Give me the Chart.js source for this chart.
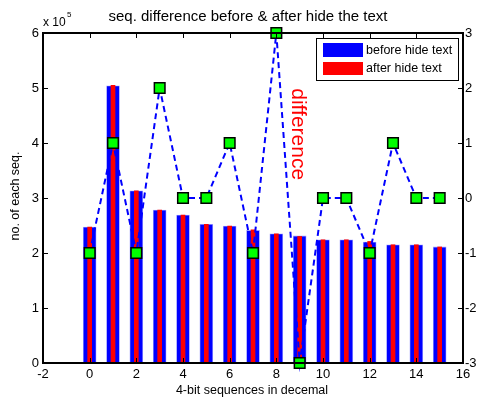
<!DOCTYPE html>
<html>
<head>
<meta charset="utf-8">
<script src="https://cdn.jsdelivr.net/npm/chart.js@4/dist/chart.umd.min.js"></script>
<style>
  body { margin: 0; background: #fff; }
</style>
</head>
<body>
<canvas id="c" width="477" height="397"></canvas>
<script>
// 4-bit sequence values 0..15
const sequences = [0, 1, 2, 3, 4, 5, 6, 7, 8, 9, 10, 11, 12, 13, 14, 15];
const beforeHide = [247000, 504000, 313000, 278000, 269000, 252000, 249000, 241000, 235000, 231000, 224000, 224000, 220000, 215000, 215000, 211000];
const afterHide = [247000, 505000, 313000, 278000, 269000, 252000, 249000, 242000, 235000, 230000, 224000, 224000, 221000, 215000, 215000, 211000];
const difference = [-1, 1, -1, 2, 0, 0, 1, -1, 3, -3, 0, 0, -1, 1, 0, 0];
const xTicks = [-2, 0, 2, 4, 6, 8, 10, 12, 14, 16];

const FONT = '"Liberation Sans", Arial, Helvetica, sans-serif';

const pts = (arr) => sequences.map((s, i) => ({ x: s, y: arr[i] }));

// matlab-ish box, inward ticks, labels, legend
const matlabDecor = {
    id: 'matlabDecor',
    afterDatasetsDraw(chart) {
        const { ctx, chartArea: a, scales } = chart;
        const x = scales.x, y = scales.y, y2 = scales.y2;
        ctx.save();
        ctx.strokeStyle = '#000';
        ctx.lineWidth = 1;
        const tl = 5;
        ctx.beginPath();
        xTicks.forEach(v => {
            const px = Math.round(x.getPixelForValue(v)) + 0.5;
            ctx.moveTo(px, a.bottom); ctx.lineTo(px, a.bottom - tl);
            ctx.moveTo(px, a.top); ctx.lineTo(px, a.top + tl);
        });
        for (let v = 0; v <= 600000; v += 100000) {
            const py = Math.round(y.getPixelForValue(v)) + 0.5;
            ctx.moveTo(a.left, py); ctx.lineTo(a.left + tl, py);
        }
        for (let v = -3; v <= 3; v++) {
            const py = Math.round(y2.getPixelForValue(v)) + 0.5;
            ctx.moveTo(a.right, py); ctx.lineTo(a.right - tl, py);
        }
        ctx.stroke();

        ctx.lineWidth = 2;
        ctx.strokeRect(a.left, a.top, a.right - a.left, a.bottom - a.top);

        // rotated red annotation
        ctx.save();
        ctx.translate(x.getPixelForValue(8.93), y2.getPixelForValue(1.16));
        ctx.rotate(Math.PI / 2);
        ctx.fillStyle = '#ff0000';
        ctx.font = '21px ' + FONT;
        ctx.textAlign = 'center';
        ctx.textBaseline = 'middle';
        ctx.fillText('difference', 0, 0);
        ctx.restore();

        // legend
        ctx.fillStyle = '#fff';
        ctx.fillRect(316, 38, 142, 42);
        ctx.lineWidth = 1;
        ctx.strokeRect(316.5, 38.5, 142, 42);
        ctx.fillStyle = '#0000ff';
        ctx.fillRect(323, 43, 40, 14);
        ctx.fillStyle = '#ff0000';
        ctx.fillRect(323, 62, 40, 13);
        ctx.fillStyle = '#000';
        ctx.font = '12.5px ' + FONT;
        ctx.textAlign = 'left';
        ctx.textBaseline = 'middle';
        ctx.fillText('before hide text', 366, 51);
        ctx.fillText('after hide text', 366, 69);

        // title and axis labels
        ctx.font = '15px ' + FONT;
        ctx.textAlign = 'center';
        ctx.fillText('seq. difference before & after hide the text', 248, 17);
        ctx.font = '12.5px ' + FONT;
        ctx.fillText('4-bit sequences in decemal', 252, 391);
        ctx.save();
        ctx.translate(16, 196);
        ctx.rotate(-Math.PI / 2);
        ctx.fillText('no. of each seq.', 0, 0);
        ctx.restore();

        ctx.textAlign = 'left';
        ctx.font = '12px ' + FONT;
        ctx.fillText('x 10', 43, 23);
        ctx.font = '8px ' + FONT;
        ctx.fillText('5', 67, 15);
        ctx.restore();
    }
};

new Chart(document.getElementById('c').getContext('2d'), {
    data: {
        datasets: [{
            type: 'line',
            label: 'difference',
            data: pts(difference),
            yAxisID: 'y2',
            borderColor: '#0000ff',
            borderWidth: 2,
            borderDash: [6, 4],
            pointStyle: 'rect',
            pointRadius: 7.5,
            pointBackgroundColor: '#00ff00',
            pointBorderColor: '#000',
            pointBorderWidth: 1.5,
            clip: false,
            order: 0
        }, {
            type: 'bar',
            label: 'after hide text',
            data: pts(afterHide),
            yAxisID: 'y',
            backgroundColor: '#ff0000',
            barThickness: 4,
            grouped: false,
            order: 1
        }, {
            type: 'bar',
            label: 'before hide text',
            data: pts(beforeHide),
            yAxisID: 'y',
            backgroundColor: '#0000ff',
            borderColor: '#a0a0ff',
            borderWidth: 0.8,
            barThickness: 13,
            grouped: false,
            order: 2
        }]
    },
    options: {
        responsive: false,
        animation: false,
        layout: { padding: { top: 33, left: 0, right: 0, bottom: 0 } },
        plugins: {
            legend: { display: false },
            tooltip: { enabled: false }
        },
        scales: {
            x: {
                type: 'linear',
                offset: false,
                min: -2,
                max: 16,
                grid: { display: false, drawTicks: false },
                border: { display: false },
                afterBuildTicks: (s) => { s.ticks = xTicks.map(v => ({ value: v })); },
                ticks: { color: '#000', font: { size: 13, family: FONT }, padding: 4, maxRotation: 0 },
                afterFit: (s) => { s.height = 34; }
            },
            y: {
                position: 'left',
                min: 0,
                max: 600000,
                grid: { display: false, drawTicks: false },
                border: { display: false },
                ticks: {
                    stepSize: 100000,
                    color: '#000',
                    font: { size: 13, family: FONT },
                    padding: 4,
                    callback: (v) => v / 100000
                },
                afterFit: (s) => { s.width = 43; }
            },
            y2: {
                position: 'right',
                min: -3,
                max: 3,
                grid: { display: false, drawTicks: false },
                border: { display: false },
                ticks: { stepSize: 1, color: '#000', font: { size: 13, family: FONT }, padding: 2 },
                afterFit: (s) => { s.width = 14; }
            }
        }
    },
    plugins: [matlabDecor]
});
</script>
</body>
</html>
